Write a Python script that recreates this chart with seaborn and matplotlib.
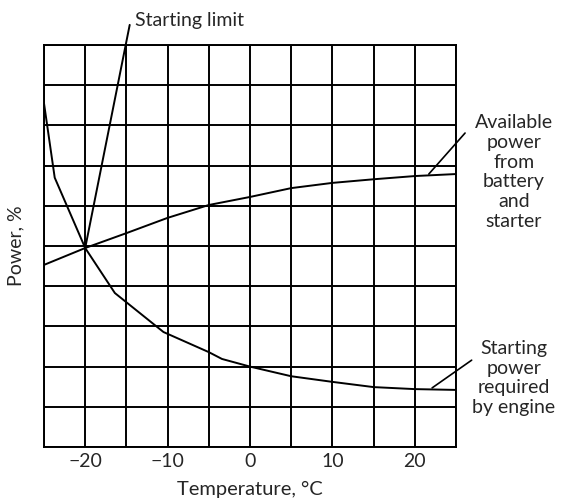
import pandas as pd
import matplotlib.pyplot as plt
import numpy as np
import seaborn as sns

# Starting power required by engine
temp_required = [-25, -23.7, -20, -16.4, -15, -10.5, -5, -3.4, 0, 5, 10, 15, 20, 25]
power_required = [85.5, 67, 49.5, 38.3, 36, 28.6, 23.6, 21.9, 20, 17.6, 16.2, 14.9, 14.4, 14.2]

# Available power from battery and starter
temp_available = [-25, -20, -15, -10, -5, 0, 5, 10, 15, 20, 25]
power_available = [45.3, 49.5, 53.2, 57, 60.2, 62.2, 64.4, 65.7, 66.6, 67.4, 67.9]

# Starting limit line
temp_limit = [-20, -14.6]
power_limit = [49.5, 105]

x_ticks = [-20, -10, 0, 10, 20]
x_tick_labels = ["\u221220", "\u221210", "0", "10", "20"]

sns.set_theme(style="white")
plt.rcParams['font.family'] = ['Lato', 'DejaVu Sans']

fig = plt.figure(figsize=(5.65, 4.98), dpi=100)
ax = fig.add_axes([44/565, 1 - 447/498, 412/565, 402/498])

req_df = pd.DataFrame({"Temperature": temp_required, "Power": power_required})
av_df = pd.DataFrame({"Temperature": temp_available, "Power": power_available})
lim_df = pd.DataFrame({"Temperature": temp_limit, "Power": power_limit})

sns.lineplot(data=req_df, x="Temperature", y="Power", color="black", linewidth=1.4, ax=ax, sort=False)
sns.lineplot(data=av_df, x="Temperature", y="Power", color="black", linewidth=1.4, ax=ax, sort=False)
sns.lineplot(data=lim_df, x="Temperature", y="Power", color="black", linewidth=1.4, ax=ax, sort=False)
ax.lines[-1].set_clip_on(False)

ax.set_xlim(-25, 25)
ax.set_ylim(0, 100)
ax.set_xticks(np.arange(-25, 26, 5))
ax.set_yticks(np.arange(0, 101, 10))
ax.grid(True, color="black", linewidth=1.4)
ax.set_xticklabels(["" if t not in x_ticks else x_tick_labels[x_ticks.index(t)]
                    for t in np.arange(-25, 26, 5)], fontsize=14)
ax.set_yticklabels([])
ax.tick_params(length=0, pad=4)
for s in ax.spines.values():
    s.set_color("black")
    s.set_linewidth(1.4)

ax.set_xlabel("Temperature, \u00b0C", fontsize=14.5, labelpad=8)
ax.set_ylabel("Power, %", fontsize=14, labelpad=10)

# leader lines
ax.plot([21.7, 26.1], [67.9, 78.1], color="black", linewidth=1.2, clip_on=False)
ax.plot([22.1, 26.9], [14.7, 21.6], color="black", linewidth=1.2, clip_on=False)

fig.text(135/565, 1 - 20/498, "Starting limit", fontsize=14, ha="left", va="center")
fig.text(514/565, 1 - 172/498, "Available\npower\nfrom\nbattery\nand\nstarter",
         fontsize=14, ha="center", va="center", linespacing=1.2)
fig.text(514/565, 1 - 378/498, "Starting\npower\nrequired\nby engine",
         fontsize=14, ha="center", va="center", linespacing=1.2)

plt.savefig("out.png", dpi=100)
